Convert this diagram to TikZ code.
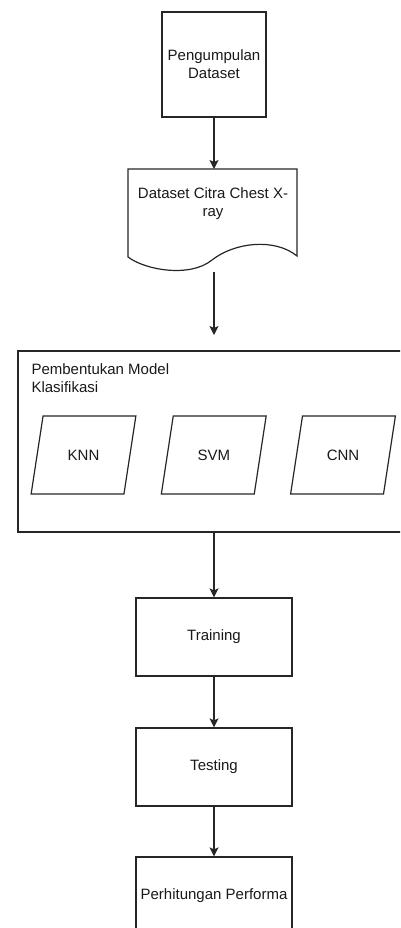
\documentclass[tikz,border=0pt]{standalone}
\usepackage{fontspec}
\setmainfont{Liberation Sans}
\usetikzlibrary{shapes.geometric,arrows.meta}
\begin{document}
\begin{tikzpicture}[x=1pt,y=-1pt,
  font=\fontsize{15}{18}\selectfont,
  every node/.style={text=black!90},
  box/.style={draw=black!85,line width=1.2pt,inner sep=2pt,minimum width=156,minimum height=78,align=center},
  algo/.style={draw=black!85,line width=1.2pt,trapezium,trapezium left angle=71.6,trapezium right angle=108.4,trapezium stretches=true,minimum width=105,minimum height=78},
  flow/.style={draw=black!85,line width=1.2pt,-{Stealth[length=9pt,width=9pt,inset=2pt]}}]
\useasboundingbox (0,0) rectangle (400,928);
\clip (0,0) rectangle (400,928);
% kolom utama
\node[box,minimum width=104,minimum height=105] (kumpul) at (214,64.5) {Pengumpulan\\Dataset};
\node[align=center] (dataset) at (213,204) {Dataset Citra Chest X-\\ray};
\draw[draw=black!85,line width=1.2pt] (128,257) -- (128,169) -- (297,169) -- (297,256)
  .. controls (275,238) and (235,242) .. (212,260)
  .. controls (190,278) and (145,270) .. (128,257) -- cycle;
\coordinate (dataout) at (214,272);
\coordinate (modelin) at (214,335);
% blok model
\node[box,minimum width=392,minimum height=181] (model) at (214,441.5) {};
\node[anchor=west,align=left] (judul) at (28,378) {Pembentukan Model\\Klasifikasi};
\foreach \n/\x/\t in {knn/83.5/KNN,svm/213.75/SVM,cnn/343/CNN}
  \node[algo] (\n) at (\x,455) {\t};
\node[box] (train) at (214,637) {Training};
\node[box] (test) at (214,767) {Testing};
\node[box] (hitung) at (214,896) {Perhitungan Performa};
% panah
\draw[flow] (kumpul) -- (214,169);
\draw[flow] (dataout) -- (modelin);
\draw[flow] (model) -- (train);
\draw[flow] (train) -- (test);
\draw[flow] (test) -- (hitung);
\end{tikzpicture}
\end{document}
